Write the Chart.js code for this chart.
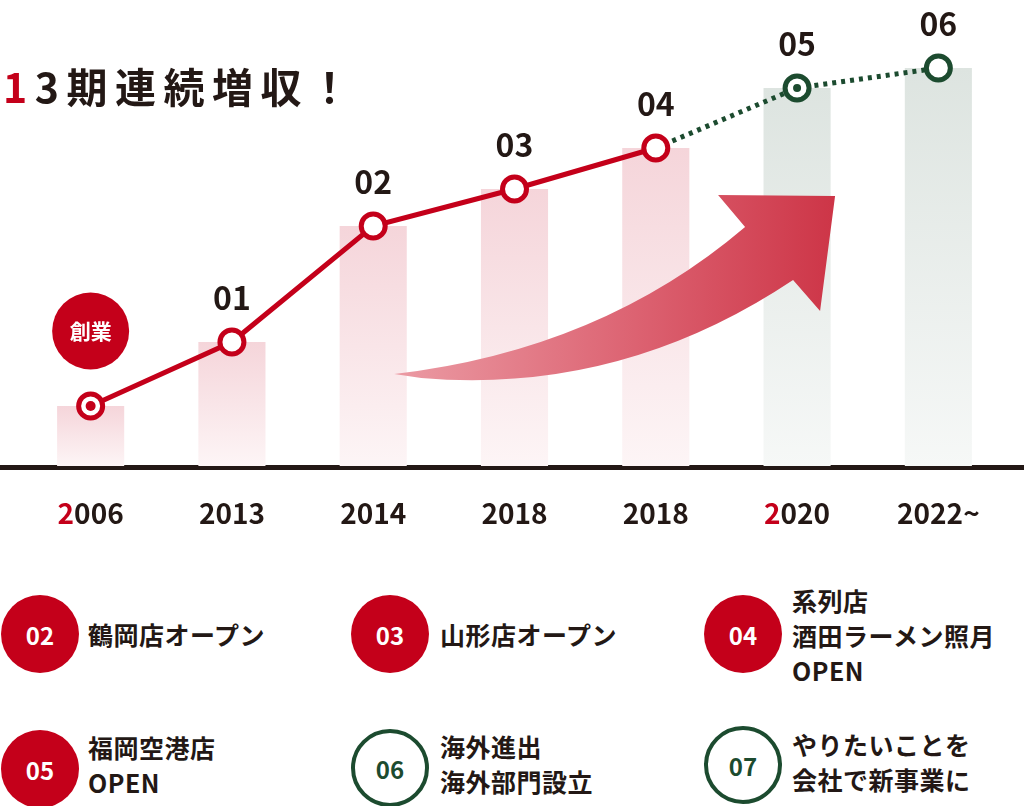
<!DOCTYPE html>
<html lang="ja">
<head>
<meta charset="utf-8">
<title>13期連続増収</title>
<script src="https://cdn.jsdelivr.net/npm/chart.js@4/dist/chart.umd.min.js"></script>
<style>
  html, body { margin: 0; padding: 0; background: #fff; }
  body { width: 1024px; height: 806px; position: relative; overflow: hidden;
         font-family: "Noto Sans CJK JP", "Noto Sans", sans-serif; color: #231815; }
  #chart { position: absolute; left: 0; top: 0; }
  .title { position: absolute; left: 3px; top: 65px; font-size: 41px; line-height: 41px;
           font-weight: 700; letter-spacing: 7.5px; white-space: nowrap; }
  .title .red { color: #c4001a; }
  .badge { position: absolute; width: 78px; height: 78px; border-radius: 50%; box-sizing: border-box;
           display: flex; align-items: center; justify-content: center;
           font-size: 24px; font-weight: 700; }
  .badge.done { background: #c4001a; color: #fff; }
  .badge.plan { border: 4px solid #1c4b2f; color: #1c4b2f; background: #fff; }
  .note { position: absolute; font-size: 25px; line-height: 35px; font-weight: 700;
          letter-spacing: 0.5px; white-space: nowrap; transform: translateY(-50%); }
</style>
</head>
<body>
<canvas id="chart" width="1024" height="540"></canvas>
<div class="title"><span class="red">1</span>3期連続増収！</div>

<div class="badge done" style="left:1px;top:595px">02</div>
<div class="note" style="left:88px;top:634px">鶴岡店オープン</div>
<div class="badge done" style="left:351px;top:595px">03</div>
<div class="note" style="left:440px;top:634px">山形店オープン</div>
<div class="badge done" style="left:704px;top:595px">04</div>
<div class="note" style="left:792px;top:635px">系列店<br>酒田ラーメン照月<br>OPEN</div>

<div class="badge done" style="left:1px;top:730px">05</div>
<div class="note" style="left:88px;top:765px">福岡空港店<br>OPEN</div>
<div class="badge plan" style="left:351px;top:729px">06</div>
<div class="note" style="left:440px;top:764px">海外進出<br>海外部門設立</div>
<div class="badge plan" style="left:704px;top:726px">07</div>
<div class="note" style="left:792px;top:762px">やりたいことを<br>会社で新事業に</div>

<script>
// years on the axis, growth index (bar height / marker), step labels above the markers
const years = ['2006', '2013', '2014', '2018', '2018', '2020', '2022~'];
const sales = [60, 124, 240, 277, 318, 378, 398];
const steps = ['創業', '01', '02', '03', '04', '05', '06'];
const redFirstDigit = [true, false, false, false, false, true, false];
const planned = [false, false, false, false, false, true, true];   // 2020 onward = green
const dotted = [false, false, false, false, true, true, true];     // segment starting here is dotted

const RED = '#c4001a';
const GREEN = '#1c4b2f';
const INK = '#231815';
const FONT = '"Noto Sans CJK JP", "Noto Sans", sans-serif';

function barFill(ctx) {
  const chart = ctx.chart;
  const area = chart.chartArea;
  if (!area) return '#f5d6db';
  const top = chart.scales.y.getPixelForValue(ctx.raw);
  const g = chart.ctx.createLinearGradient(0, top, 0, area.bottom);
  if (planned[ctx.dataIndex]) {
    g.addColorStop(0, '#dde4e0');
    g.addColorStop(1, '#f6f8f7');
  } else {
    g.addColorStop(0, '#f5d5da');
    g.addColorStop(1, '#fdf5f6');
  }
  return g;
}

const decor = {
  id: 'decor',
  beforeDatasetsDraw(chart) {
    const c = chart.ctx;
    const b = chart.chartArea.bottom;
    c.save();
    c.fillStyle = INK;
    c.fillRect(0, b - 1, chart.width, 5);
    c.restore();
  },
  afterDatasetDraw(chart, args) {
    if (args.index !== 0) return;
    // big rising arrow, placed from the category positions
    const c = chart.ctx;
    const X = i => chart.scales.x.getPixelForValue(i);
    const B = chart.chartArea.bottom;
    const x0 = X(2) + 21, x1 = X(5) + 38;
    c.save();
    const g = c.createLinearGradient(x0, 0, x1, 0);
    g.addColorStop(0, '#eb9ba4');
    g.addColorStop(0.55, '#dc6271');
    g.addColorStop(1, '#cd3547');
    c.fillStyle = g;
    c.beginPath();
    c.moveTo(x0, B - 92);
    c.quadraticCurveTo(X(4) - 55, B - 116, X(5) - 52, B - 239);
    c.lineTo(X(5) - 79, B - 271);
    c.lineTo(x1, B - 270);
    c.lineTo(X(5) + 23, B - 155);
    c.lineTo(X(5) - 4, B - 186);
    c.quadraticCurveTo(X(4) - 35, B - 71, x0 + 27, B - 88);
    c.closePath();
    c.fill();
    c.restore();
  },
  afterDatasetsDraw(chart) {
    const c = chart.ctx;
    const pts = chart.getDatasetMeta(1).data;
    const B = chart.chartArea.bottom;
    c.save();
    // centre dots on the founding point and the current point
    [[0, RED], [5, GREEN]].forEach(([i, col]) => {
      c.fillStyle = col;
      c.beginPath();
      c.arc(pts[i].x, pts[i].y, i === 0 ? 5 : 4, 0, Math.PI * 2);
      c.fill();
    });
    // step numbers above each point
    c.textAlign = 'center';
    c.textBaseline = 'middle';
    pts.forEach((p, i) => {
      if (i === 0) {
        c.fillStyle = RED;
        c.beginPath();
        c.arc(p.x, p.y - 75, 38.5, 0, Math.PI * 2);
        c.fill();
        c.fillStyle = '#fff';
        c.font = '700 21px ' + FONT;
        c.fillText(steps[i], p.x, p.y - 75);
      } else {
        c.fillStyle = INK;
        c.font = '700 32px ' + FONT;
        c.fillText(steps[i], p.x, p.y - 44);
      }
    });
    // year labels, first digit red on milestone years
    c.font = '700 28px ' + FONT;
    c.textAlign = 'left';
    years.forEach((y, i) => {
      const x = chart.scales.x.getPixelForValue(i);
      const w = c.measureText(y).width;
      let sx = x - w / 2;
      const first = y.charAt(0);
      c.fillStyle = redFirstDigit[i] ? RED : INK;
      c.fillText(first, sx, B + 47);
      sx += c.measureText(first).width;
      c.fillStyle = INK;
      c.fillText(y.slice(1), sx, B + 47);
    });
    c.restore();
  }
};

new Chart(document.getElementById('chart'), {
  data: {
    labels: years,
    datasets: [
      {
        type: 'bar',
        data: sales,
        backgroundColor: barFill,
        borderWidth: 0,
        categoryPercentage: 1,
        barPercentage: 0.475,
        order: 1
      },
      {
        type: 'line',
        data: sales,
        borderColor: RED,
        borderWidth: 5,
        borderCapStyle: 'butt',
        tension: 0,
        clip: false,
        pointRadius: 12,
        pointBorderWidth: 5,
        pointBackgroundColor: '#fff',
        pointBorderColor: planned.map(p => p ? GREEN : RED),
        segment: {
          borderColor: ctx => dotted[ctx.p0DataIndex] ? GREEN : RED,
          borderDash: ctx => dotted[ctx.p0DataIndex] ? [4, 5] : []
        },
        order: 0
      }
    ]
  },
  options: {
    responsive: false,
    animation: false,
    events: [],
    layout: { autoPadding: false, padding: { left: 20, right: 15, top: 0, bottom: 74 } },
    scales: {
      x: { display: false, offset: true },
      y: { display: false, min: 0, max: 466 }
    },
    plugins: {
      legend: { display: false },
      tooltip: { enabled: false }
    }
  },
  plugins: [decor]
});
</script>
</body>
</html>
